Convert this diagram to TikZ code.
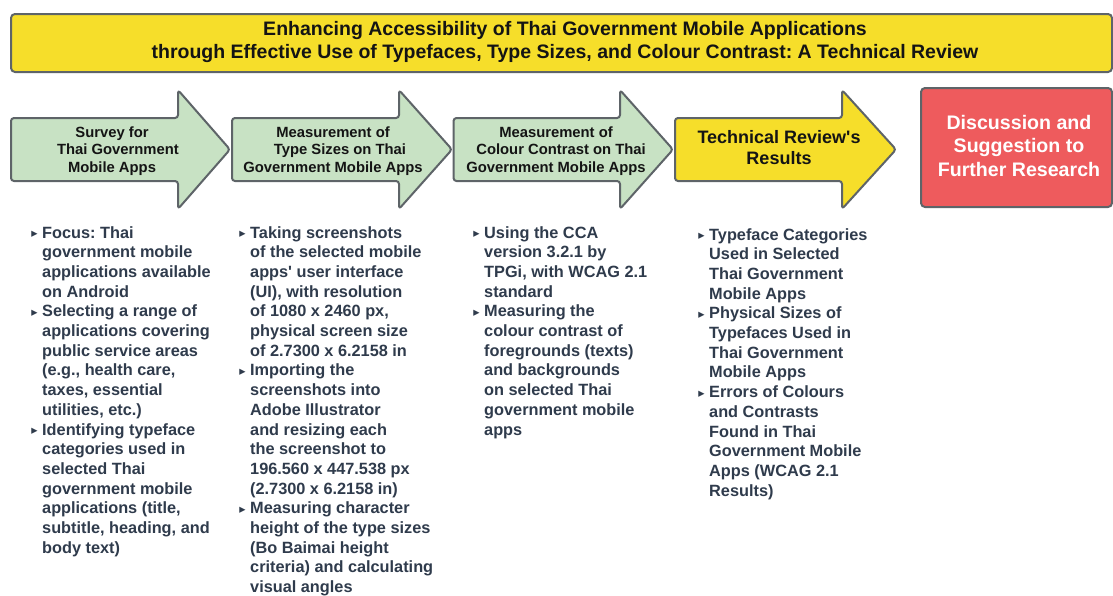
\documentclass[tikz,border=0pt]{standalone}
\usepackage{fontspec}
\setmainfont{Liberation Sans}
\newfontfamily\symfont{DejaVu Sans}

\definecolor{edge}{HTML}{5E6468}
\definecolor{bannerfill}{HTML}{F6DE2A}
\definecolor{stepgreen}{HTML}{C8E2C4}
\definecolor{stepred}{HTML}{EE5B5D}
\definecolor{bodytext}{HTML}{2F3B4C}
\definecolor{labeltext}{HTML}{141414}

% straight apostrophe, set as a glyph so no quote mapping touches it
\newcommand\apos{\XeTeXglyph\XeTeXglyphindex "quotesingle"\relax}
% small triangular bullet hanging to the left of the text
\newcommand\itm{\leavevmode\llap{{\symfont\fontsize{12.5}{12.5}\selectfont\raisebox{0.6pt}{▸}}\hspace{4.5pt}}}

% an arrow-shaped step: #1 left edge, #2 start of the head, #3 tip
\newcommand\steparrow[4]{%
  \draw[stepshape, fill=#4] (#1,118) -- (#2,118) -- (#2,90) -- (#3,149.5)
    -- (#2,209) -- (#2,181) -- (#1,181) -- cycle;}

\tikzset{
  stepshape/.style={draw=edge, line width=2pt, rounded corners=3pt, line join=round},
  boxshape/.style={draw=edge, line width=2pt, rounded corners=4pt},
  steplabel/.style={inner sep=0pt, align=center, text=labeltext,
    font=\fontsize{14.8}{17.5}\selectfont\bfseries},
  biglabel/.style={inner sep=0pt, align=center, text=labeltext,
    font=\fontsize{18}{21}\selectfont\bfseries},
  col/.style={inner sep=0pt, anchor=base west, text=bodytext,
    font=\fontsize{16.3}{19.7}\selectfont\bfseries},
}

\begin{document}
\frenchspacing
\begin{tikzpicture}[x=1pt, y=-1pt]
\useasboundingbox (0,0) rectangle (1113,595);
\fill[white] (0,0) rectangle (1113,595);

% title banner
\draw[boxshape, fill=bannerfill] (11,14) rectangle (1112,72);
\node[inner sep=0pt, align=center, text=labeltext,
      font=\fontsize{19.5}{23}\selectfont\bfseries] (title) at (565,42)
  {Enhancing Accessibility of Thai Government Mobile Applications\\
   through Effective Use of Typefaces, Type Sizes, and Colour Contrast: A Technical Review};

% process steps
\steparrow{11}{178}{230}{stepgreen}
\steparrow{232}{399}{452}{stepgreen}
\steparrow{453.5}{620}{673}{stepgreen}
\steparrow{675}{842}{896}{bannerfill}
\draw[boxshape, fill=stepred] (921,88) rectangle (1112,207);

\node[steplabel] (s1) at (112,151)
  {Survey for\\\hspace*{12pt}Thai Government\\Mobile Apps};
\node[steplabel] (s2) at (333,151)
  {Measurement of\\\hspace*{14pt}Type Sizes on Thai\\Government Mobile Apps};
\node[steplabel] (s3) at (556,151)
  {Measurement of\\\hspace*{10pt}Colour Contrast on Thai\\Government Mobile Apps};
\node[biglabel] (s4) at (779,147.5)
  {Technical Review\apos s\\Results};
\node[inner sep=0pt, align=center, text=white,
      font=\fontsize{19.6}{23.5}\selectfont\bfseries] (s5) at (1019,145.5)
  {Discussion and\\Suggestion to\\Further Research};

% details under each step
\node[col] (d1) at (42,238) {\parbox[t]{200pt}{\raggedright
  \itm Focus: Thai\\
  government mobile\\
  applications available\\
  on Android\\
  \itm Selecting a range of\\
  applications covering\\
  public service areas\\
  (e.g., health care,\\
  taxes, essential\\
  utilities, etc.)\\
  \itm Identifying typeface\\
  categories used in\\
  selected Thai\\
  government mobile\\
  applications (title,\\
  subtitle, heading, and\\
  body text)}};

\node[col] (d2) at (250,238) {\parbox[t]{200pt}{\raggedright
  \itm Taking screenshots\\
  of the selected mobile\\
  apps\apos\ user interface\\
  (UI), with resolution\\
  of 1080 x 2460 px,\\
  physical screen size\\
  of 2.7300 x 6.2158 in\\
  \itm Importing the\\
  screenshots into\\
  Adobe Illustrator\\
  and resizing each\\
  the screenshot to\\
  196.560 x 447.538 px\\
  (2.7300 x 6.2158 in)\\
  \itm Measuring character\\
  height of the type sizes\\
  (Bo Baimai height\\
  criteria) and calculating\\
  visual angles}};

\node[col] (d3) at (484,238) {\parbox[t]{200pt}{\raggedright
  \itm Using the CCA\\
  version 3.2.1 by\\
  TPGi, with WCAG 2.1\\
  standard\\
  \itm Measuring the\\
  colour contrast of\\
  foregrounds (texts)\\
  and backgrounds\\
  on selected Thai\\
  government mobile\\
  apps}};

\node[col] (d4) at (709,240) {\parbox[t]{200pt}{\raggedright
  \itm Typeface Categories\\
  Used in Selected\\
  Thai Government\\
  Mobile Apps\\
  \itm Physical Sizes of\\
  Typefaces Used in\\
  Thai Government\\
  Mobile Apps\\
  \itm Errors of Colours\\
  and Contrasts\\
  Found in Thai\\
  Government Mobile\\
  Apps (WCAG 2.1\\
  Results)}};
\end{tikzpicture}
\end{document}
